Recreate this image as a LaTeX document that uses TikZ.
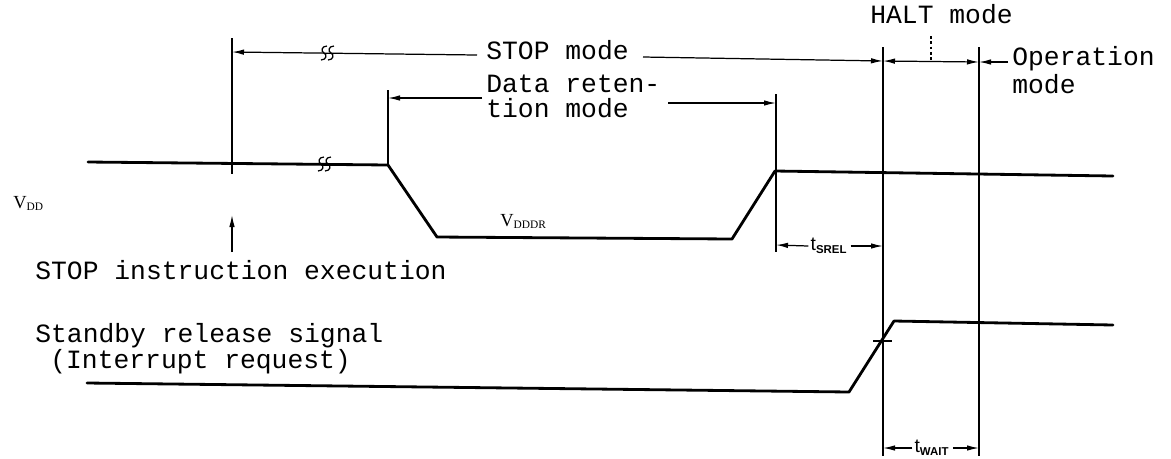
\documentclass[tikz,border=0pt]{standalone}
\usepackage{fontspec}
\setmonofont{Liberation Mono}
\newfontfamily\lserif{Liberation Serif}
\newfontfamily\lsans{Liberation Sans}
\usetikzlibrary{arrows.meta}
\tikzset{
  sig/.style={line width=1.6pt, line join=round, line cap=round},
  guide/.style={line width=0.75pt},
  dimarrow/.style={line width=0.7pt, -{Latex[length=2.4mm,width=1.1mm]}},
  dimboth/.style={line width=0.7pt, {Latex[length=2.4mm,width=1.1mm]}-{Latex[length=2.4mm,width=1.1mm]}},
  lbl/.style={font=\fontsize{15}{18}\selectfont\ttfamily, inner sep=0pt, anchor=base west,
              text height=8.5pt, text depth=2.5pt},
  sublbl/.style={inner sep=0pt, anchor=base west},
  brk/.pic={
    \draw[line width=0.7pt] (-6,7) .. controls (0,7) and (0,1) .. (-3,0) .. controls (-6,-1) and (-6,-7) .. (0,-7);
    \draw[line width=0.7pt] (1,7) .. controls (7,7) and (7,1) .. (4,0) .. controls (1,-1) and (1,-7) .. (7,-7);
  }
}
\begin{document}
\begin{tikzpicture}[x=0.02cm,y=-0.02cm]
\useasboundingbox (0,0) rectangle (1171,458);

% ---- named points ----
\coordinate (L1t) at (232,38);  \coordinate (L1b) at (232,174);
\coordinate (L2t) at (388,90);  \coordinate (L2b) at (388,165);
\coordinate (L3t) at (776,94);  \coordinate (L3b) at (776,252);
\coordinate (L4t) at (883,47);  \coordinate (L4b) at (883,456);
\coordinate (L5t) at (979,47);  \coordinate (L5b) at (979,456);

% vertical guide lines
\draw[guide] (L1t) -- (L1b);
\draw[guide] (L2t) -- (L2b);
\draw[guide] (L3t) -- (L3b);
\draw[guide] (L4t) -- (L4b);
\draw[guide] (L5t) -- (L5b);

% ---- V_DD signal ----
\coordinate (v0) at (88,162);
\coordinate (v1) at (388,165);
\coordinate (v2) at (437,237);
\coordinate (v3) at (732,239);
\coordinate (v4) at (775,171);
\coordinate (v5) at (1113,176);
\draw[sig] (v0) -- (v1) -- (v2) -- (v3) -- (v4) -- (v5);
\pic at (324,164) {brk};

% ---- Standby release signal ----
\coordinate (s0) at (87,383);
\coordinate (s1) at (849,392);
\coordinate (s2) at (894,321);
\coordinate (s3) at (1113,325);
\draw[sig] (s0) -- (s1) -- (s2) -- (s3);
\coordinate (tk0) at (873,341); \coordinate (tk1) at (892,341);
\draw[guide] (tk0) -- (tk1);

% ---- labels ----
\node[lbl] (stopmode) at (486,59) {STOP mode};
\node[lbl] (halt) at (870,23) {HALT mode};
\node[lbl] (oper1) at (1012,65) {Operation};
\node[lbl] (oper2) at (1012,93) {mode};
\node[lbl] (dr1) at (486,92) {Data reten-};
\node[lbl] (dr2) at (486,117) {tion mode};
\node[lbl] (stopins) at (35,279) {STOP instruction execution};
\node[lbl] (sb1) at (35,342) {Standby release signal};
\node[lbl] (sb2) at (50,368) {(Interrupt request)};
\node[sublbl] (vdd) at (13,208) {\lserif\fontsize{10.5}{12}\selectfont V\textsubscript{\fontsize{6.5}{7}\selectfont DD}};
\node[sublbl] (vdddr) at (500,226) {\lserif\fontsize{10.5}{12}\selectfont V\textsubscript{\fontsize{6.5}{7}\selectfont DDDR}};
\node[inner sep=0pt] (tsrel) at (829,246) {\lsans\fontsize{11}{12}\selectfont t\textsubscript{\fontsize{6.5}{7}\selectfont\bfseries SREL}};
\node[inner sep=0pt] (twait) at (932,448) {\lsans\fontsize{11}{12}\selectfont t\textsubscript{\fontsize{6.5}{7}\selectfont\bfseries WAIT}};

% ---- STOP mode arrows ----
\coordinate (sa0) at (477,55);  \coordinate (sa1) at (232,52);
\coordinate (sb0) at (643,57);  \coordinate (sb1) at (883,61);
\draw[dimarrow] (sa0) -- (sa1);
\draw[dimarrow] (sb0) -- (sb1);
\pic at (327,53) {brk};

% ---- HALT mode ----
\coordinate (h0) at (883,61); \coordinate (h1) at (979,62);
\draw[dimboth] (h0) -- (h1);
\coordinate (hd0) at (931,36); \coordinate (hd1) at (931,61);
\draw[line width=0.6pt, dash pattern=on 1.6pt off 1.4pt] (hd0) -- (hd1);

% ---- Operation mode ----
\coordinate (o0) at (1008,62); \coordinate (o1) at (979,62);
\draw[dimarrow] (o0) -- (o1);

% ---- Data retention mode ----
\coordinate (d0) at (482,98);  \coordinate (d1) at (388,98);
\coordinate (d2) at (668,103); \coordinate (d3) at (776,103);
\draw[dimarrow] (d0) -- (d1);
\draw[dimarrow] (d2) -- (d3);

% ---- STOP instruction arrow ----
\coordinate (ia0) at (232,252); \coordinate (ia1) at (232,215);
\draw[dimarrow] (ia0) -- (ia1);

% ---- t_SREL ----
\coordinate (ts0) at (776,245); \coordinate (ts1) at (883,246);
\draw[dimarrow] (tsrel.west) ++(-2,0) -- (ts0);
\draw[dimarrow] (tsrel.east) ++(3,0) -- (ts1);

% ---- t_WAIT ----
\coordinate (tw0) at (883,448); \coordinate (tw1) at (979,448);
\draw[dimarrow] (twait.west) ++(-2,0) -- (tw0);
\draw[dimarrow] (twait.east) ++(3,0) -- (tw1);
\end{tikzpicture}
\end{document}
